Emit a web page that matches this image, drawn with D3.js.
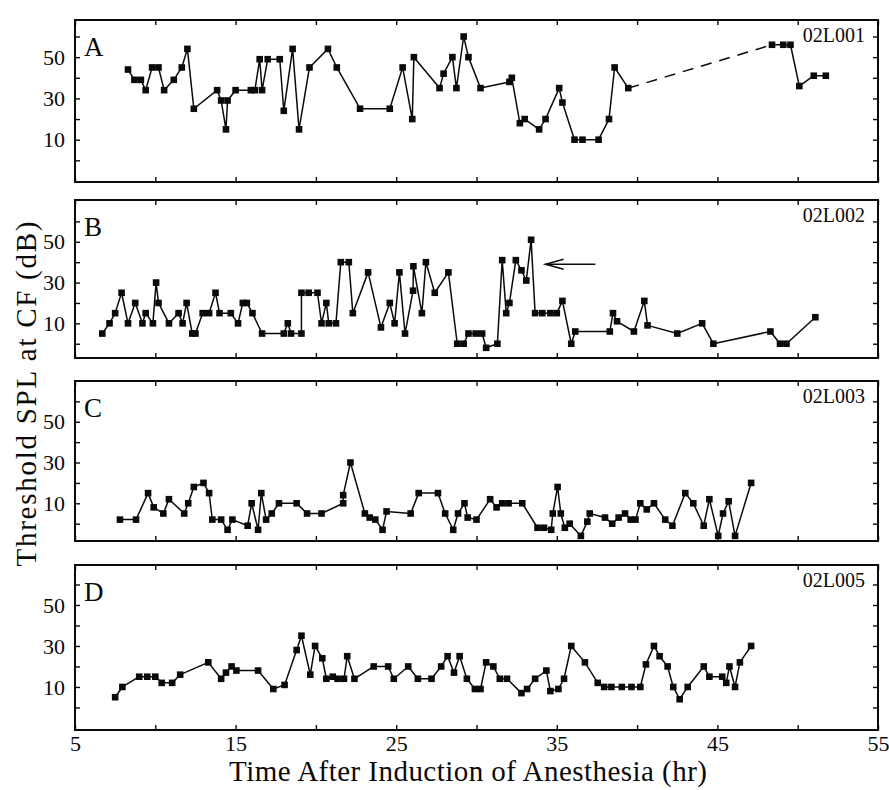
<!DOCTYPE html>
<html>
<head>
<meta charset="utf-8">
<script src="https://cdn.jsdelivr.net/npm/d3@7"></script>
<style>
  body { margin: 0; background: #fff; }
  svg text { font-family: "Liberation Serif", "DejaVu Serif", serif; fill: #0a0a0a; }
</style>
</head>
<body>
<svg width="889" height="790"></svg>
<script>
// ---- data (hours after induction, threshold SPL in dB) ----
const xTickLabels = [5, 15, 25, 35, 45, 55];
const yTickLabels = [10, 30, 50];
const panelLetters = ['A', 'B', 'C', 'D'];
const unitIds = ['02L001', '02L002', '02L003', '02L005'];

const timeA1 = [8.3, 8.7, 9.1, 9.4, 9.8, 10.2, 10.55, 11.15, 11.65, 12.0, 12.4, 13.85, 14.1, 14.4, 14.5, 15.0, 15.95, 16.2, 16.5, 16.65,
  17.0, 17.75, 18.0, 18.55, 18.95, 19.6, 20.75, 21.3, 22.75, 24.6, 25.4, 26.0, 26.1, 27.7, 27.95, 28.5, 28.75, 29.2, 29.5, 30.25,
  32.05, 32.2, 32.7, 33.0, 33.9, 34.3, 35.15, 35.35, 36.1, 36.6, 37.6, 38.25, 38.6, 39.45];
const splA1 = [44, 39, 39, 34, 45, 45, 34, 39, 45, 54, 25, 34, 29, 15, 29, 34, 34, 34, 49, 34,
  49, 49, 24, 54, 15, 45, 54, 45, 25, 25, 45, 20, 50, 35, 42, 50, 35, 60, 50, 35,
  38, 40, 18, 20, 15, 20, 35, 28, 10, 10, 10, 20, 45, 35];
const timeA2 = [48.4, 49.1, 49.55, 50.1, 51.0, 51.75];
const splA2 = [56, 56, 56, 36, 41, 41];

const timeB = [6.7, 7.15, 7.5, 7.9, 8.3, 8.75, 9.2, 9.4, 9.85, 10.05, 10.2, 10.85, 11.45, 11.7, 11.95, 12.3, 12.5, 12.95, 13.35, 13.75,
  14.0, 14.7, 15.15, 15.45, 15.7, 16.05, 16.65, 18.0, 18.25, 18.45, 19.1, 19.1, 19.55, 20.1, 20.35, 20.65, 20.8, 21.25, 21.55, 22.05,
  22.3, 23.25, 24.05, 24.6, 24.9, 25.2, 25.55, 26.05, 26.07, 26.6, 26.85, 27.4, 28.25, 28.8, 29.2, 29.5, 29.95, 30.35, 30.6, 31.3,
  31.6, 31.85, 32.05, 32.45, 32.8, 33.1, 33.4, 33.65, 34.1, 34.6, 35.0, 35.35, 35.9, 36.15, 38.3, 38.5, 38.75, 39.8, 40.45, 40.65,
  42.5, 44.05, 44.75, 48.3, 48.9, 49.3, 51.1];
const splB = [5, 10, 15, 25, 10, 20, 10, 15, 10, 30, 20, 10, 15, 10, 20, 5, 5, 15, 15, 25,
  15, 15, 10, 20, 20, 15, 5, 5, 10, 5, 5, 25, 25, 25, 10, 20, 10, 10, 40, 40,
  15, 35, 8, 20, 10, 35, 5, 26, 38, 15, 40, 25, 35, 0, 0, 5, 5, 5, -2, 0,
  41, 15, 20, 41, 36, 31, 51, 15, 15, 15, 15, 21, 0, 6, 6, 15, 11, 6, 21, 9,
  5, 10, 0, 6, 0, 0, 13];
const arrowTimeB = [37.4, 34.3];
const arrowSplB = 39;

const timeC = [7.8, 8.8, 9.55, 9.9, 10.5, 10.85, 11.8, 12.05, 12.4, 13.0, 13.35, 13.55, 14.1, 14.5, 14.8, 15.75, 16.0, 16.4, 16.6, 16.9,
  17.25, 17.7, 18.8, 19.45, 20.35, 21.7, 21.7, 22.15, 23.05, 23.35, 23.7, 24.15, 24.4, 25.9, 26.4, 27.6, 28.05, 28.55, 28.85, 29.25,
  29.45, 30.0, 30.85, 31.25, 31.6, 32.0, 32.85, 33.8, 34.2, 34.65, 34.75, 35.05, 35.25, 35.5, 35.8, 36.5, 36.9, 37.05, 38.0, 38.45,
  38.85, 39.25, 39.6, 39.9, 40.2, 40.6, 41.05, 41.75, 42.2, 43.0, 43.5, 44.15, 44.5, 45.05, 45.35, 45.7, 46.1, 47.1];
const splC = [2, 2, 15, 8, 5, 12, 5, 10, 18, 20, 15, 2, 2, -3, 2, -1, 10, -3, 15, 2,
  5, 10, 10, 5, 5, 10, 14, 30, 5, 3, 2, -3, 6, 5, 15, 15, 5, -3, 5, 10,
  3, 2, 12, 8, 10, 10, 10, -2, -2, -3, 5, 18, 5, -2, 0, -6, 1, 5, 3, 0,
  3, 5, 2, 2, 10, 7, 10, 2, -1, 15, 10, -1, 12, -6, 5, 11, -6, 20];

const timeD = [7.5, 7.95, 9.0, 9.5, 10.0, 10.4, 11.05, 11.55, 13.3, 14.1, 14.4, 14.75, 15.05, 16.4, 17.35, 18.05, 18.8, 19.1, 19.65, 19.95,
  20.4, 20.65, 21.05, 21.35, 21.75, 21.95, 22.4, 23.6, 24.5, 24.85, 25.75, 26.35, 27.2, 27.8, 28.2, 28.6, 28.95, 29.4, 29.9, 30.25,
  30.6, 31.05, 31.45, 31.9, 32.8, 33.15, 33.65, 34.35, 34.6, 35.1, 35.45, 35.9, 36.75, 37.55, 37.95, 38.4, 39.05, 39.65, 40.2, 40.55,
  41.05, 41.4, 41.9, 42.25, 42.65, 43.15, 44.15, 44.5, 45.3, 45.55, 45.75, 46.1, 46.4, 47.1];
const splD = [5, 10, 15, 15, 15, 12, 12, 16, 22, 14, 17, 20, 18, 18, 9, 11, 28, 35, 16, 30,
  24, 14, 15, 14, 14, 25, 14, 20, 20, 14, 20, 14, 14, 20, 25, 17, 25, 14, 9, 9,
  22, 20, 14, 14, 7, 9, 14, 18, 8, 9, 14, 30, 22, 12, 10, 10, 10, 10, 10, 21,
  30, 25, 20, 10, 4, 10, 20, 15, 15, 12, 20, 10, 22, 30];

const zip = (t, v) => t.map((d, i) => [d, v[i]]);

// ---- layout ----
const left = 75, right = 878;
const ink = '#0a0a0a';
const svg = d3.select('svg');

const x = d3.scaleLinear().domain([5, 55]).range([left, right]);

const panels = [
  { top: 20, bottom: 182, domain: [-10.5, 68], segments: [zip(timeA1, splA1), zip(timeA2, splA2)], dashed: true },
  { top: 200, bottom: 358, domain: [-7, 70.5], segments: [zip(timeB, splB)], arrow: true },
  { top: 381, bottom: 541, domain: [-8.5, 70], segments: [zip(timeC, splC)] },
  { top: 565, bottom: 730, domain: [-11, 69.5], segments: [zip(timeD, splD)] }
];

const yTicks = [0, 10, 20, 30, 40, 50, 60];
const xTicks = d3.range(5, 56, 5);

panels.forEach((p, i) => {
  const y = d3.scaleLinear().domain(p.domain).range([p.bottom, p.top]);
  const g = svg.append('g');
  const last = i === panels.length - 1;

  // ticks point inward on all four sides
  const xb = d3.axisBottom(x).tickValues(xTicks).tickSize(-5).tickPadding(5)
    .tickFormat(d => (last && xTickLabels.includes(d)) ? d : '');
  const xt = d3.axisTop(x).tickValues(xTicks).tickSize(-5).tickFormat('');
  const yl = d3.axisLeft(y).tickValues(yTicks).tickSize(-5).tickPadding(10)
    .tickFormat(d => yTickLabels.includes(d) ? d : '');
  const yr = d3.axisRight(y).tickValues(yTicks).tickSize(-5).tickFormat('');

  g.append('g').attr('transform', 'translate(0,' + p.bottom + ')').call(xb);
  g.append('g').attr('transform', 'translate(0,' + p.top + ')').call(xt);
  g.append('g').attr('transform', 'translate(' + left + ',0)').call(yl);
  g.append('g').attr('transform', 'translate(' + right + ',0)').call(yr);

  g.selectAll('.domain').remove();
  g.selectAll('.tick line').attr('stroke', ink).attr('stroke-width', 1.4);
  g.selectAll('.tick text').attr('fill', ink).style('font-size', '22px');

  g.append('rect')
    .attr('x', left).attr('y', p.top)
    .attr('width', right - left).attr('height', p.bottom - p.top)
    .attr('fill', 'none').attr('stroke', ink).attr('stroke-width', 2);

  g.append('text').attr('x', left + 9).attr('y', p.top + 36)
    .style('font-size', '27px').text(panelLetters[i]);
  g.append('text').attr('x', right - 13).attr('y', p.top + 22)
    .attr('text-anchor', 'end').style('font-size', '20px').text(unitIds[i]);

  const line = d3.line().x(d => x(d[0])).y(d => y(d[1]));

  if (p.dashed) {
    const a = p.segments[0][p.segments[0].length - 1];
    const b = p.segments[1][0];
    g.append('path').attr('d', line([a, b]))
      .attr('fill', 'none').attr('stroke', ink).attr('stroke-width', 1.5)
      .attr('stroke-dasharray', '11,8');
  }

  p.segments.forEach(seg => {
    g.append('path').attr('d', line(seg))
      .attr('fill', 'none').attr('stroke', ink).attr('stroke-width', 1.5)
      .attr('stroke-linejoin', 'round');
    g.selectAll(null).data(seg).enter().append('rect')
      .attr('x', d => x(d[0]) - 3.3).attr('y', d => y(d[1]) - 3.3)
      .attr('width', 6.6).attr('height', 6.6).attr('fill', ink);
  });

  if (p.arrow) {
    const ay = y(arrowSplB);
    const tip = x(arrowTimeB[1]);
    g.append('line').attr('x1', x(arrowTimeB[0])).attr('x2', tip)
      .attr('y1', ay).attr('y2', ay).attr('stroke', ink).attr('stroke-width', 1.5);
    g.append('path')
      .attr('d', 'M' + (tip + 18) + ',' + (ay - 5) + 'L' + tip + ',' + ay + 'L' + (tip + 18) + ',' + (ay + 5))
      .attr('fill', 'none').attr('stroke', ink).attr('stroke-width', 1.5);
  }
});

svg.append('text')
  .attr('transform', 'translate(36,394) rotate(-90)')
  .attr('text-anchor', 'middle').style('font-size', '29px')
  .attr('textLength', 345).attr('lengthAdjust', 'spacing')
  .text('Threshold SPL at CF (dB)');

svg.append('text')
  .attr('x', 468).attr('y', 781)
  .attr('text-anchor', 'middle').style('font-size', '29px')
  .attr('textLength', 478).attr('lengthAdjust', 'spacing')
  .text('Time After Induction of Anesthesia (hr)');
</script>
</body>
</html>
